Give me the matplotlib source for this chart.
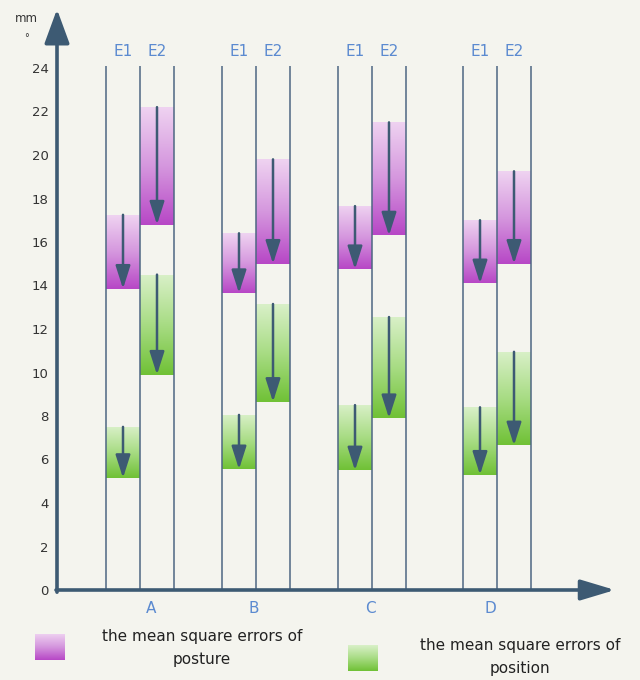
import numpy as np
import matplotlib
matplotlib.use('Agg')
import matplotlib.pyplot as plt
from matplotlib.colors import LinearSegmentedColormap

plt.rcParams['font.family'] = ['DejaVu Sans']

# values (mm / degree)
groups = ['A', 'B', 'C', 'D']
series_names = ['E1', 'E2']
posture_e1_top = [17.25, 16.4, 17.65, 17.0]
posture_e1_bot = [13.85, 13.65, 14.75, 14.1]
posture_e2_top = [22.2, 19.8, 21.5, 19.25]
posture_e2_bot = [16.8, 15.0, 16.3, 15.0]
position_e1_top = [7.5, 8.05, 8.5, 8.4]
position_e1_bot = [5.15, 5.55, 5.5, 5.3]
position_e2_top = [14.5, 13.15, 12.55, 10.95]
position_e2_bot = [9.9, 8.65, 7.9, 6.65]
yticks = list(range(0, 25, 2))
legend_labels = ['the mean square errors of\nposture', 'the mean square errors of\nposition']

# layout
mids = np.array([83, 199, 315, 440])   # x of the middle line of each group
w = 34                                  # column width
label_shift = [11, -2, -2, -7]
axis_col = '#3d5a73'
line_col = '#4d6782'
text_blue = '#5b8ad0'
bg = '#f4f4ee'

purple_cm = LinearSegmentedColormap.from_list('pur', ['#efd3f1', '#d597de', '#b747c6'])
green_cm = LinearSegmentedColormap.from_list('grn', ['#d9f0c8', '#a8dc84', '#70c136'])
grad = np.linspace(0, 1, 200).reshape(-1, 1)

fig = plt.figure(figsize=(6.4, 6.8), dpi=100, facecolor=bg)
ax = fig.add_axes([57 / 640, 90 / 680, 558 / 640, 27 * 21.75 / 680])
ax.set_facecolor('none')
ax.set_xlim(0, 558)
ax.set_ylim(0, 27)

# vertical guide lines
xs = np.concatenate([mids - w, mids, mids + w])
ax.vlines(xs, 0, 24.1, color=line_col, lw=1.1, zorder=3)


def draw_bars(left, top, bot, cm):
    top = np.array(top)
    bot = np.array(bot)
    bars = ax.bar(left, top - bot, bottom=bot, width=w, align='edge',
                  color='none', edgecolor='none')
    for b in bars:
        x0, y0 = b.get_x(), b.get_y()
        im = ax.imshow(grad, extent=(x0, x0 + b.get_width(), y0, y0 + b.get_height()),
                       cmap=cm, aspect='auto', zorder=1)
        im.set_clip_path(b)
        xc = x0 + b.get_width() / 2
        ax.annotate('', xy=(xc, y0), xytext=(xc, y0 + b.get_height()),
                    arrowprops=dict(arrowstyle='-|>,head_length=1.0,head_width=0.32',
                                    color=axis_col, lw=1.8, mutation_scale=14,
                                    shrinkA=0, shrinkB=0), zorder=4)


draw_bars(mids - w, posture_e1_top, posture_e1_bot, purple_cm)
draw_bars(mids, posture_e2_top, posture_e2_bot, purple_cm)
draw_bars(mids - w, position_e1_top, position_e1_bot, green_cm)
draw_bars(mids, position_e2_top, position_e2_bot, green_cm)
ax.set_xlim(0, 558)
ax.set_ylim(0, 27)

# axes with arrow heads
ax.annotate('', xy=(0, 26.7), xytext=(0, -0.1),
            arrowprops=dict(arrowstyle='-|>,head_length=1.5,head_width=0.55',
                            color=axis_col, lw=2.6, mutation_scale=14,
                            shrinkA=0, shrinkB=0), annotation_clip=False)
ax.annotate('', xy=(558, 0), xytext=(-1, 0),
            arrowprops=dict(arrowstyle='-|>,head_length=1.5,head_width=0.45',
                            color=axis_col, lw=2.6, mutation_scale=14,
                            shrinkA=0, shrinkB=0), annotation_clip=False)

for s in ax.spines.values():
    s.set_visible(False)
ax.set_xticks([])
ax.set_yticks(yticks)
ax.tick_params(axis='y', length=0, pad=6, labelsize=9.5, labelcolor='#333333')

# column and group labels
for m in mids:
    ax.text(m - w / 2, 24.75, series_names[0], ha='center', va='center',
            fontsize=11, color=text_blue)
    ax.text(m + w / 2, 24.75, series_names[1], ha='center', va='center',
            fontsize=11, color=text_blue)
for m, g, sh in zip(mids, groups, label_shift):
    ax.text(m + sh, -0.85, g, ha='center', va='center', fontsize=11,
            color=text_blue, clip_on=False)

fig.text(15 / 640, 1 - 18 / 680, 'mm', fontsize=8.5, color='#333333', va='center')
fig.text(24 / 640, 1 - 38 / 680, '°', fontsize=7, color='#333333', va='center')

# legend
sw1 = fig.add_axes([35 / 640, 20 / 680, 30 / 640, 26 / 680])
sw1.imshow(grad, cmap=purple_cm, aspect='auto')
sw1.axis('off')
sw2 = fig.add_axes([348 / 640, 9 / 680, 30 / 640, 26 / 680])
sw2.imshow(grad, cmap=green_cm, aspect='auto')
sw2.axis('off')
fig.text(202 / 640, 1 - 648 / 680, legend_labels[0], ha='center', va='center',
         fontsize=11, color='#222222', linespacing=1.6)
fig.text(520 / 640, 1 - 657 / 680, legend_labels[1], ha='center', va='center',
         fontsize=11, color='#222222', linespacing=1.6)

fig.savefig('out.png', dpi=100, facecolor=bg)
